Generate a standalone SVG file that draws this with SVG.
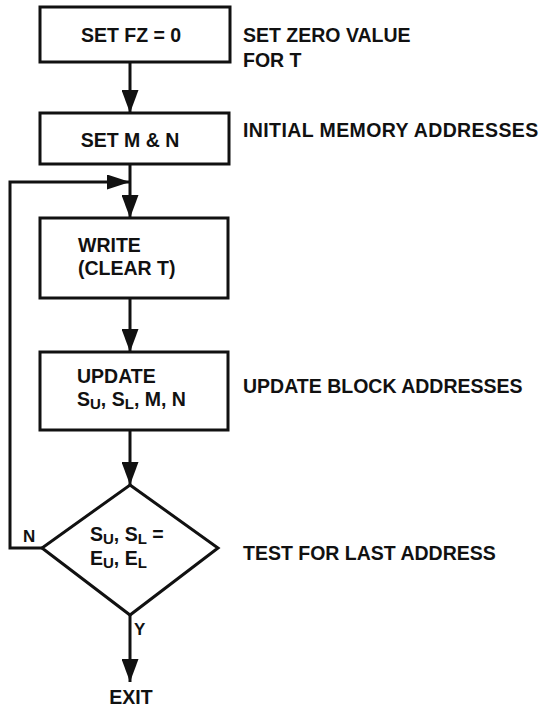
<svg xmlns="http://www.w3.org/2000/svg" width="544" height="709" viewBox="0 0 544 709">
<style>
text{font-family:"Liberation Sans",Arial,sans-serif;font-weight:bold;font-size:19.5px;fill:#111}
.box{fill:#fff;stroke:#111;stroke-width:3}
.ln{fill:none;stroke:#111;stroke-width:3}
.sub{font-size:15px}
</style>
<defs>
<marker id="ah" viewBox="0 0 23 17" refX="23" refY="8.5" markerWidth="23" markerHeight="17" markerUnits="userSpaceOnUse" orient="auto">
<path d="M0,0 L23,8.5 L0,17 Z" fill="#111"/>
</marker>
<marker id="ah2" viewBox="0 0 23 15" refX="23" refY="7.5" markerWidth="23" markerHeight="15" markerUnits="userSpaceOnUse" orient="auto">
<path d="M0,0 L23,7.5 L0,15 Z" fill="#111"/>
</marker>
</defs>
<rect width="544" height="709" fill="#fff"/>
<g id="connectors">
<line class="ln" x1="130" y1="62" x2="130" y2="113" marker-end="url(#ah)"/>
<line class="ln" x1="130" y1="164" x2="130" y2="218" marker-end="url(#ah)"/>
<line class="ln" x1="130" y1="298" x2="130" y2="352" marker-end="url(#ah)"/>
<line class="ln" x1="130" y1="430" x2="130" y2="485" marker-end="url(#ah)"/>
<line class="ln" x1="130" y1="615" x2="130" y2="682" marker-end="url(#ah)"/>
<polyline class="ln" points="42,548 10,548 10,182 130,182" marker-end="url(#ah2)"/>
<text x="23" y="542" style="font-size:17px">N</text>
<text x="134" y="635" style="font-size:17px">Y</text>
</g>
<g id="n1">
<rect class="box" x="40" y="7" width="190" height="55"/>
<text x="131" y="42" text-anchor="middle">SET FZ = 0</text>
</g>
<g id="n2">
<rect class="box" x="40" y="113" width="189" height="51"/>
<text x="130" y="147" text-anchor="middle">SET M &amp; N</text>
</g>
<g id="n3">
<rect class="box" x="40" y="218" width="188" height="80"/>
<text x="78" y="252">WRITE</text>
<text x="78" y="275">(CLEAR T)</text>
</g>
<g id="n4">
<rect class="box" x="40" y="352" width="188" height="78"/>
<text x="77" y="383">UPDATE</text>
<text x="77" y="406">S<tspan class="sub" dy="3">U</tspan><tspan dy="-3">, S</tspan><tspan class="sub" dy="3">L</tspan><tspan dy="-3">, M, N</tspan></text>
</g>
<g id="n5">
<polygon class="box" points="130,485 218,548 130,615 42,548"/>
<text x="90" y="541">S<tspan class="sub" dy="3">U</tspan><tspan dy="-3">, S</tspan><tspan class="sub" dy="3">L</tspan><tspan dy="-3"> =</tspan></text>
<text x="90" y="565">E<tspan class="sub" dy="3">U</tspan><tspan dy="-3">, E</tspan><tspan class="sub" dy="3">L</tspan></text>
</g>
<g id="exit">
<text x="131" y="704" text-anchor="middle">EXIT</text>
</g>
<g id="annotations">
<text x="243" y="42">SET ZERO VALUE</text>
<text x="243" y="67">FOR T</text>
<text x="243" y="137" style="letter-spacing:0.4px">INITIAL MEMORY ADDRESSES</text>
<text x="243" y="393">UPDATE BLOCK ADDRESSES</text>
<text x="243" y="560">TEST FOR LAST ADDRESS</text>
</g>
</svg>
